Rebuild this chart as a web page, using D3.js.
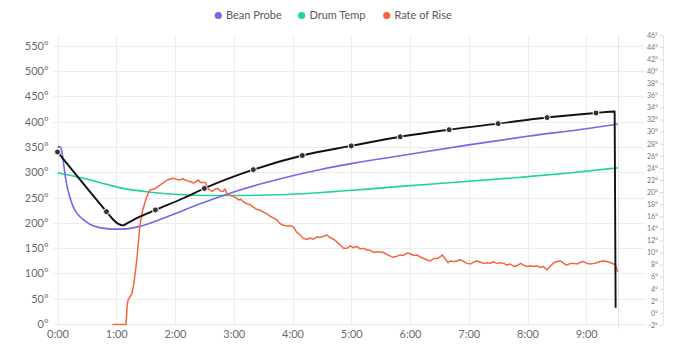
<!DOCTYPE html>
<html><head><meta charset="utf-8">
<script src="https://cdn.jsdelivr.net/npm/d3@7"></script>
<style>
html,body{margin:0;padding:0;background:#fff;}
svg{display:block;font-family:Lato,"Open Sans",sans-serif;}
</style></head><body>
<svg id="chart" width="688" height="349"></svg>
<script>
// ---------- DATA ----------
const seriesNames = ["Bean Probe", "Drum Temp", "Rate of Rise"];
const seriesColors = ["#7468e6", "#1fd29b", "#f6643f"];

const leftTicks = [0,50,100,150,200,250,300,350,400,450,500,550];
const rightTicks = [-2,0,2,4,6,8,10,12,14,16,18,20,22,24,26,28,30,32,34,36,38,40,42,44,46];
const timeTicks = [0,60,120,180,240,300,360,420,480,540];
const dropTime = 572;

const beanTime = [0,3,5,7,9,11,13,16,19,23,28,33,38,43,50,60,70,84,100,120,145,180,210,240,270,300,350,420,480,540,572];
const beanTemp = [350,350,335,305,280,262,248,232,221,212,204,197,193,190.5,188.5,187.5,188,193,203,218,237,261,278,293,306,317,332.5,354,371,386,395];

const drumTime = [0,15,33,50,67,80,95,115,135,160,187,214,250,282,320,350,400,473,520,572];
const drumTemp = [299,293,285,276,268,264,260.5,257,255,254,254,255,257.5,261.7,267,272,279,290,298,308.6];

const profileTime = [0,50,57,62,67,71,84,100,129,150,200,250,300,350,400,450,500,550,569,570];
const profileTemp = [340,222,206,198,195,199,212,225.5,249,268,305,333,352,370,384,396,408,417,420,32];
const markerTimes = [0,50,100,150,200,250,300,350,400,450,500,550];

const rorTime = [56,70,71,72,76,78,81,84,87,91,94,100,105,112,118,122,125,128,132,136,139,144,146,151,154,158,161,164,166,169,171,173,176,180,183,185,187,190,193,197,200,204,207,210,214,217,221,224,227,231,234,238,241,244,248,251,255,258,261,265,268,272,275,278,282,285,289,292,296,299,302,306,309,313,316,319,323,326,330,333,336,340,343,347,350,353,357,360,364,367,370,374,377,381,384,388,391,393,394,398,399,401,404,408,411,415,418,422,425,428,432,435,439,442,445,449,452,456,459,462,466,469,473,476,479,483,486,490,493,496,500,503,507,510,514,517,520,524,527,531,534,537,541,544,548,551,554,558,561,565,568,570,572];
const rorValue = [-1.9,-1.9,1.0,2.1,3.2,4.9,8.8,14.3,17.0,19.2,20.3,20.6,21.2,22.0,22.3,22.1,22.0,22.2,21.9,21.7,21.5,22.0,21.6,21.6,20.5,20.1,20.5,20.6,20.2,20.1,20.5,19.8,19.5,19.2,19.0,18.7,18.8,18.4,18.1,17.9,17.5,17.1,17.0,16.7,16.4,16.0,15.7,15.4,14.8,14.5,14.4,14.4,14.2,13.4,12.9,12.3,12.2,12.4,12.2,12.6,12.5,12.7,12.9,12.5,12.2,11.8,11.2,10.7,10.7,11.1,10.8,11.0,10.6,10.7,10.4,10.4,10.0,10.1,10.1,10.0,9.7,9.4,9.2,9.4,9.6,9.5,9.9,9.8,9.5,9.6,9.3,9.0,8.8,8.6,9.0,9.0,9.3,9.6,9.4,8.5,8.3,8.6,8.5,8.6,8.8,8.5,8.2,8.1,8.4,8.6,8.4,8.2,8.3,8.2,8.5,8.2,8.3,8.2,7.9,8.1,7.7,7.8,8.2,7.9,7.7,7.8,7.7,7.8,7.5,7.7,7.1,7.7,8.3,8.5,8.6,8.2,7.9,8.2,8.2,8.1,8.4,8.5,8.2,8.1,8.2,8.3,8.5,8.6,8.5,8.3,8.1,7.9,6.8];

// ---------- CHART ----------
const svg = d3.select("#chart");
const plotLeft = 57.5, plotRight = 645, plotTop = 35, plotBottom = 324;

const x = d3.scaleLinear().domain([0, 600]).range([plotLeft, plotRight]);
const yL = d3.scaleLinear().domain([0, 550]).range([plotBottom, 45.7]);
const yR = d3.scaleLinear().domain([-2, 46]).range([325, plotTop]);

const zip = (a, b) => a.map((v, i) => [v, b[i]]);
const fmtTime = s => Math.floor(s / 60) + ":" + String(s % 60).padStart(2, "0");

// grid
const grid = svg.append("g").attr("stroke", "#ececec").attr("stroke-width", 1);
grid.selectAll("line.h").data(leftTicks).join("line").attr("class", "h")
  .attr("x1", plotLeft - 4).attr("x2", plotRight)
  .attr("y1", d => Math.round(yL(d)) + 0.5).attr("y2", d => Math.round(yL(d)) + 0.5);
grid.selectAll("line.v").data(timeTicks).join("line").attr("class", "v")
  .attr("x1", d => Math.round(x(d)) + 0.5).attr("x2", d => Math.round(x(d)) + 0.5)
  .attr("y1", plotTop).attr("y2", plotBottom);
svg.append("line").attr("stroke", "#e2e2e2")
  .attr("x1", Math.round(x(dropTime)) + 0.5).attr("x2", Math.round(x(dropTime)) + 0.5)
  .attr("y1", plotTop).attr("y2", 329);

// left axis
const gL = svg.append("g").attr("transform", `translate(${plotLeft},0)`)
  .call(d3.axisLeft(yL).tickValues(leftTicks).tickSize(0).tickPadding(9).tickFormat(d => d + "°"));
gL.select(".domain").remove();
gL.selectAll("text").attr("fill", "#6b6b6b").style("font-size", "11px").style("font-family", "Lato");

// bottom axis
const gB = svg.append("g").attr("transform", `translate(0,${plotBottom})`)
  .call(d3.axisBottom(x).tickValues(timeTicks).tickSize(0).tickPadding(6).tickFormat(fmtTime));
gB.select(".domain").remove();
gB.selectAll("text").attr("fill", "#6b6b6b").style("font-size", "11px").style("font-family", "Lato");

// right axis
const gR = svg.append("g").attr("transform", "translate(663,0)")
  .call(d3.axisLeft(yR).tickValues(rightTicks).tickSizeInner(3).tickSizeOuter(0).tickPadding(2).tickFormat(d => d + "°"));
gR.select(".domain").attr("stroke", "#e6e6e6");
gR.selectAll(".tick line").attr("stroke", "#d8d8d8");
gR.selectAll("text").attr("fill", "#777").style("font-size", "7px").style("font-family", "Lato");

// lines
const lineL = d3.line().x(d => x(d[0])).y(d => yL(d[1]));
const lineR = d3.line().x(d => x(d[0])).y(d => yR(d[1]));

svg.append("path").datum(zip(drumTime, drumTemp))
  .attr("fill", "none").attr("stroke", seriesColors[1]).attr("stroke-width", 1.6)
  .attr("d", lineL.curve(d3.curveMonotoneX));
svg.append("path").datum(zip(beanTime, beanTemp))
  .attr("fill", "none").attr("stroke", seriesColors[0]).attr("stroke-width", 1.6)
  .attr("d", lineL.curve(d3.curveMonotoneX));
svg.append("path").datum(zip(rorTime, rorValue))
  .attr("fill", "none").attr("stroke", seriesColors[2]).attr("stroke-width", 1.5)
  .attr("stroke-linejoin", "round")
  .attr("d", lineR.curve(d3.curveLinear));
svg.append("path").datum(zip(profileTime, profileTemp))
  .attr("fill", "none").attr("stroke", "#111").attr("stroke-width", 1.9)
  .attr("stroke-linejoin", "round")
  .attr("d", lineL.curve(d3.curveMonotoneX));

svg.append("g").selectAll("circle").data(markerTimes).join("circle")
  .attr("cx", d => x(d)).attr("cy", d => yL(profileTemp[profileTime.indexOf(d)]))
  .attr("r", 3).attr("fill", "#333").attr("stroke", "#fff").attr("stroke-width", 1);

// legend
const legendX = [218.3, 301.7, 386.7];
const leg = svg.append("g").selectAll("g").data(seriesNames).join("g")
  .attr("transform", (d, i) => `translate(${legendX[i]},15.5)`);
leg.append("circle").attr("r", 3.6).attr("fill", (d, i) => seriesColors[i]);
leg.append("text").attr("x", 7.7).attr("dy", "0.35em").text(d => d)
  .attr("fill", "#5a5a5a").style("font-size", "11px").style("font-family", "Lato");
</script>
</body></html>
